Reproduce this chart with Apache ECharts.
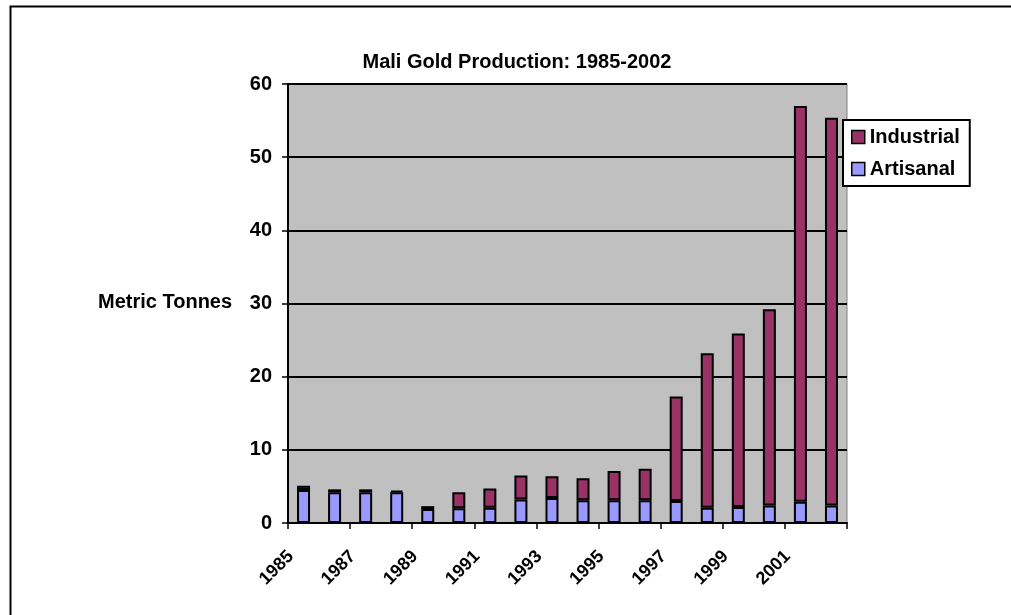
<!DOCTYPE html>
<html>
<head>
<meta charset="utf-8">
<script src="https://cdn.jsdelivr.net/npm/echarts@6/dist/echarts.min.js"></script>
<style>
  html, body { margin: 0; padding: 0; background: #fff; }
  #main { width: 1011px; height: 615px; }
</style>
</head>
<body>
<div id="main"></div>
<script>
// years on the category axis
var years = ['1985', '1986', '1987', '1988', '1989', '1990', '1991', '1992', '1993',
             '1994', '1995', '1996', '1997', '1998', '1999', '2000', '2001', '2002'];
// metric tonnes
var artisanal  = [4.5, 4.2, 4.2, 4.2, 1.9, 2.0, 2.1, 3.2, 3.4, 3.1, 3.1, 3.1, 3.0, 2.1, 2.2, 2.4, 2.9, 2.4];
var industrial = [0.6, 0.4, 0.4, 0.2, 0.4, 2.2, 2.6, 3.3, 3.0, 3.0, 4.0, 4.3, 14.3, 21.1, 23.7, 26.8, 54.1, 53.0];
var yTicks = [0, 10, 20, 30, 40, 50, 60];

var font = '"Liberation Sans", Arial, sans-serif';
var myChart = echarts.init(document.getElementById('main'));

myChart.setOption({
  animation: false,
  title: {
    text: 'Mali Gold Production: 1985-2002',
    left: 512,
    top: 47,
    textAlign: 'center',
    textStyle: { fontFamily: font, fontSize: 20, fontWeight: 'bold', color: '#000' }
  },
  graphic: [
    {
      type: 'rect',
      shape: { x: 10.5, y: 6.5, width: 1100, height: 700 },
      style: { fill: 'none', stroke: '#000', lineWidth: 2 },
      z: -10
    },
    {
      type: 'text',
      left: 98,
      top: 292,
      style: { text: 'Metric Tonnes', font: 'bold 20px ' + font, fill: '#000' }
    }
  ],
  legend: {
    orient: 'vertical',
    left: 843,
    top: 120,
    data: ['Industrial', 'Artisanal'],
    icon: 'rect',
    itemWidth: 13,
    itemHeight: 13,
    itemGap: 12,
    padding: [7, 10, 7, 8],
    borderColor: '#000',
    borderWidth: 2,
    backgroundColor: '#fff',
    textStyle: { fontFamily: font, fontSize: 20, fontWeight: 'bold', color: '#000' },
    itemStyle: { borderColor: '#000', borderWidth: 1.5 }
  },
  grid: {
    left: 288,
    top: 84,
    right: 164,
    bottom: 92,
    show: true,
    backgroundColor: '#c0c0c0',
    borderColor: '#808080',
    borderWidth: 1
  },
  xAxis: {
    type: 'category',
    data: years,
    axisLine: { lineStyle: { color: '#000', width: 2 } },
    axisTick: { show: true, length: 6, lineStyle: { color: '#000', width: 1.5 } },
    axisLabel: {
      interval: 1,
      rotate: 45,
      margin: 18,
      padding: [0, 18, 0, 0],
      fontFamily: font,
      fontSize: 18,
      fontWeight: 'bold',
      color: '#000'
    }
  },
  yAxis: {
    type: 'value',
    min: yTicks[0],
    max: yTicks[yTicks.length - 1],
    interval: 10,
    axisLine: { show: true, lineStyle: { color: '#000', width: 2 } },
    axisTick: { show: true, length: 6, lineStyle: { color: '#000', width: 1.5 } },
    splitLine: { lineStyle: { color: '#000', width: 2 } },
    axisLabel: {
      margin: 16,
      fontFamily: font,
      fontSize: 20,
      fontWeight: 'bold',
      color: '#000'
    }
  },
  series: [
    {
      name: 'Artisanal',
      type: 'bar',
      stack: 'gold',
      data: artisanal,
      barWidth: 13,
      itemStyle: { color: '#9999ff', borderColor: '#000', borderWidth: 2 }
    },
    {
      name: 'Industrial',
      type: 'bar',
      stack: 'gold',
      data: industrial,
      barWidth: 13,
      itemStyle: { color: '#993366', borderColor: '#000', borderWidth: 2 }
    }
  ]
});
</script>
</body>
</html>
